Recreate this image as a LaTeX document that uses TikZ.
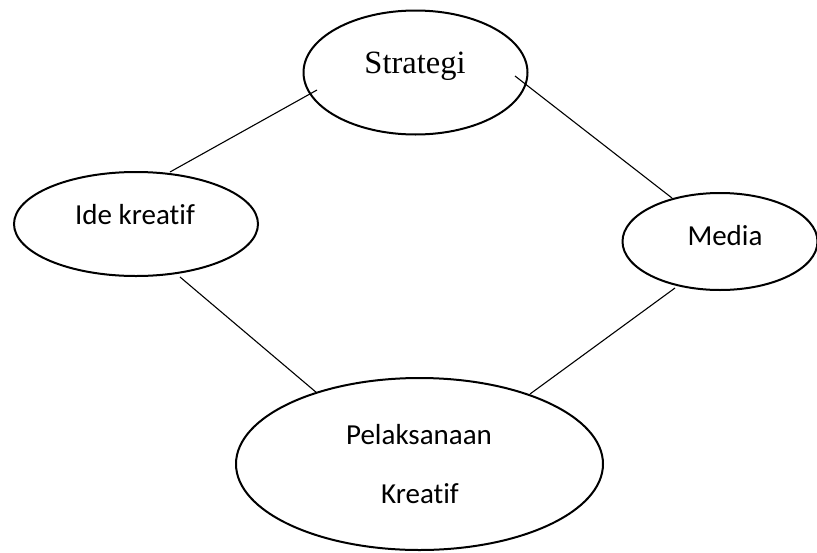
\documentclass[tikz,border=0pt]{standalone}
\usepackage{fontspec}
\setmainfont{Carlito}[Ligatures={NoCommon,NoRare,NoContextual}]
\newfontfamily\seriffont{Liberation Serif}
\usetikzlibrary{shapes.geometric,calc}
\begin{document}
\begin{tikzpicture}[x=1pt,y=-1pt,
  oval/.style={draw,ellipse,line width=2pt,inner sep=0pt},
  lbl/.style={anchor=base,inner sep=0pt,font=\fontsize{29}{35}\selectfont},
  link/.style={line width=1.1pt}]
\useasboundingbox (0,0) rectangle (817,552);
\node[oval,minimum width=224pt,minimum height=124pt] (S) at (415.5,72.5) {};
\node[oval,minimum width=244pt,minimum height=104pt] (I) at (136,224) {};
\node[oval,minimum width=195pt,minimum height=97pt] (M) at (720,241.5) {};
\node[oval,minimum width=367pt,minimum height=172pt] (P) at (419.5,464) {};
\node[anchor=base,inner sep=0pt,font=\seriffont\fontsize{32.5}{38}\selectfont] (tS) at (415,73) {Strategi};
\node[lbl] (tI) at (135,224) {Ide kreatif};
\node[lbl] (tM) at (725,245) {Media};
\node[lbl] (tP1) at (419,444) {Pelaksanaan};
\node[lbl] (tP2) at (420,503) {Kreatif};
\draw[link] ($(S.center)+(-98.5,17.5)$) -- ($(I.center)+(34,-52)$);
\draw[link] ($(S.center)+(99.5,3.5)$) -- ($(M.center)+(-48,-43.5)$);
\draw[link] ($(I.center)+(44,53)$) -- ($(P.center)+(-102.5,-71)$);
\draw[link] ($(M.center)+(-45,46.5)$) -- ($(P.center)+(110.5,-70)$);
\end{tikzpicture}
\end{document}
